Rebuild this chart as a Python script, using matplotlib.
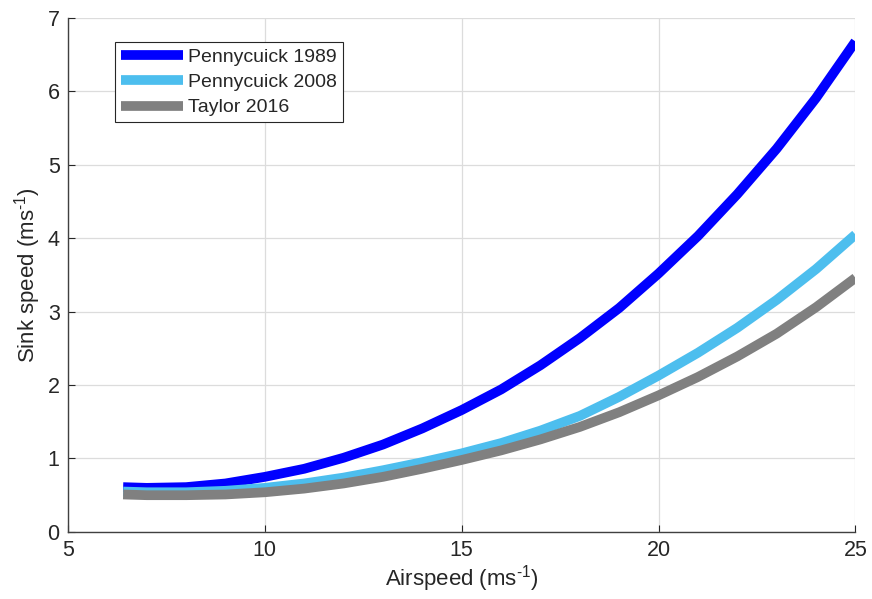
import matplotlib
matplotlib.use("Agg")
import matplotlib.pyplot as plt

plt.rcParams['font.family'] = ['Liberation Sans', 'DejaVu Sans']
plt.rcParams['mathtext.fontset'] = 'custom'
plt.rcParams['mathtext.rm'] = 'Liberation Sans'
plt.rcParams['mathtext.it'] = 'Liberation Sans'

# airspeed (m/s) and sink speed (m/s) for each polar
airspeed = [6.4, 7, 8, 9, 10, 11, 12, 13, 14, 15, 16, 17, 18, 19, 20, 21, 22, 23, 24, 25]
sink_p1989 = [0.61, 0.60, 0.61, 0.66, 0.75, 0.86, 1.01, 1.19, 1.41, 1.66, 1.94, 2.27,
              2.64, 3.05, 3.52, 4.03, 4.60, 5.22, 5.91, 6.68]
sink_p2008 = [0.55, 0.54, 0.54, 0.56, 0.60, 0.66, 0.74, 0.84, 0.95, 1.07, 1.21, 1.38,
              1.58, 1.84, 2.13, 2.44, 2.78, 3.16, 3.58, 4.05]
sink_t2016 = [0.51, 0.50, 0.50, 0.51, 0.54, 0.59, 0.66, 0.75, 0.86, 0.98, 1.11, 1.26,
              1.43, 1.63, 1.86, 2.11, 2.39, 2.70, 3.06, 3.46]

labels = ['Pennycuick 1989', 'Pennycuick 2008', 'Taylor 2016']
colors = ['#0000ff', '#4dbeee', '#808080']

fig = plt.figure(figsize=(8.72, 5.99), dpi=100)
ax = fig.add_axes([0.078, 0.112, 0.903, 0.858])

for ys, lab, c in zip([sink_p1989, sink_p2008, sink_t2016], labels, colors):
    ax.plot(airspeed, ys, color=c, lw=7, label=lab,
            solid_capstyle='butt', solid_joinstyle='round')

ax.set_xlim(5, 25)
ax.set_ylim(0, 7)
ax.set_xticks([5, 10, 15, 20, 25])
ax.set_yticks(range(8))
ax.grid(True, color='#dcdcdc', lw=0.9)
ax.set_axisbelow(True)

for s in ['top', 'right']:
    ax.spines[s].set_visible(False)
for s in ['left', 'bottom']:
    ax.spines[s].set_color('#404040')
    ax.spines[s].set_linewidth(1.0)

ax.tick_params(direction='in', length=5, colors='#262626', labelsize=15.5, pad=6)
ax.set_xlabel(r'Airspeed (ms$^{\text{-1}}$)', fontsize=16, color='#262626', labelpad=1)
ax.set_ylabel(r'Sink speed (ms$^{\text{-1}}$)', fontsize=16, color='#262626', labelpad=3)

leg = ax.legend(loc='upper left', bbox_to_anchor=(0.06, 0.953), fontsize=14,
                frameon=True, fancybox=False, framealpha=1, edgecolor='#262626',
                handlelength=3.2, handletextpad=0.25, borderpad=0.3,
                labelspacing=0.4, borderaxespad=0)
leg.get_frame().set_linewidth(0.8)
for t in leg.get_texts():
    t.set_color('#262626')

fig.savefig('out.png', dpi=100)
